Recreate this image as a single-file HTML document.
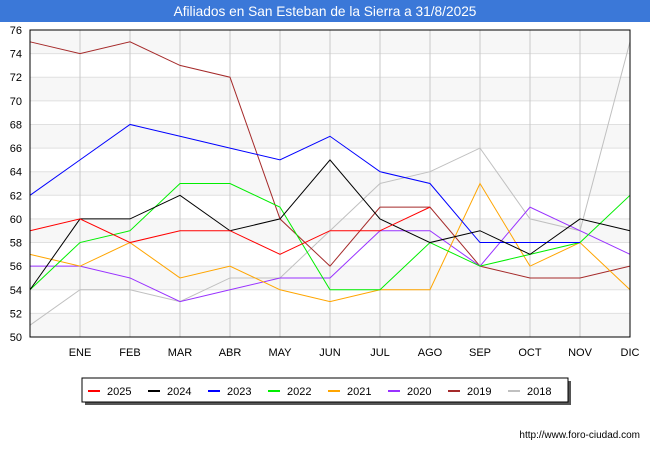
<!DOCTYPE html>
<html><head><meta charset="utf-8"><style>
body{margin:0;background:#fff;font-family:"Liberation Sans",sans-serif}
</style></head><body>
<svg id="c" width="650" height="450" xmlns="http://www.w3.org/2000/svg" font-family="Liberation Sans, sans-serif">
<rect x="0" y="0" width="650" height="22" fill="#3b78d8"/>
<text x="325" y="16" text-anchor="middle" fill="#fff" font-size="13.7">Afiliados en San Esteban de la Sierra a 31/8/2025</text>
<g id="grid"></g>
<g id="series"></g>
<rect x="30" y="30" width="600" height="307" fill="none" stroke="#000" stroke-width="1"/>
<text x="640" y="438" text-anchor="end" font-size="10" fill="#000">http://www.foro-ciudad.com</text>
<g id="legend"></g>
</svg>
<script>
const months=["","ENE","FEB","MAR","ABR","MAY","JUN","JUL","AGO","SEP","OCT","NOV","DIC"];
const yTicks=[50,52,54,56,58,60,62,64,66,68,70,72,74,76];
const names=["2025","2024","2023","2022","2021","2020","2019","2018"];
const colors=["#ff0000","#000000","#0000ff","#00ee00","#ffa500","#9932ff","#a52a2a","#c0c0c0"];
const s2025=[59,60,58,59,59,57,59,59,61];
const s2024=[54,60,60,62,59,60,65,60,58,59,57,60,59];
const s2023=[62,65,68,67,66,65,67,64,63,58,58,58];
const s2022=[54,58,59,63,63,61,54,54,58,56,57,58,62];
const s2021=[57,56,58,55,56,54,53,54,54,63,56,58,54];
const s2020=[56,56,55,53,54,55,55,59,59,56,61,59,57];
const s2019=[75,74,75,73,72,60,56,61,61,56,55,55,56];
const s2018=[51,54,54,53,55,55,59,63,64,66,60,59,75];
const data=[s2025,s2024,s2023,s2022,s2021,s2020,s2019,s2018];
const NS="http://www.w3.org/2000/svg";
const X=i=>30+i*50, Y=v=>30+(76-v)*307/26;
function el(t,a,p){const e=document.createElementNS(NS,t);for(const k in a)e.setAttribute(k,a[k]);p.appendChild(e);return e;}
const g=document.getElementById('grid');
for(let i=0;i<yTicks.length-1;i+=2){const r=el('rect',{x:30,y:Y(yTicks[i+1]),width:600,height:Y(yTicks[i])-Y(yTicks[i+1]),fill:'#f7f7f7'},g);

}
yTicks.forEach(v=>{const l=el('line',{x1:30,x2:630,y1:Y(v),y2:Y(v),stroke:'#e0e0e0'},g);


const t=el('text',{x:22,y:Y(v)+4,'text-anchor':'end','font-size':11,fill:'#000'},g);t.textContent=v;

});
months.forEach((m,i)=>{if(i>0&&i<12){const l=el('line',{x1:X(i),x2:X(i),y1:30,y2:337,stroke:'#c8c8c8'},g);

}
if(m){const t=el('text',{x:X(i),y:356,'text-anchor':'middle','font-size':11,fill:'#000'},g);t.textContent=m;

}});
const sg=document.getElementById('series');
for(let k=data.length-1;k>=0;k--){const pts=data[k].map((v,i)=>X(i)+','+Y(v)).join(' ');
const p=el('polyline',{points:pts,fill:'none',stroke:colors[k],'stroke-width':1},sg);

}
const lg=document.getElementById('legend');
const sh=el('rect',{x:85,y:381,width:486,height:24,fill:'#555'},lg);


const bx=el('rect',{x:82,y:378,width:486,height:24,fill:'#fff',stroke:'#000'},lg);


names.forEach((n,k)=>{const x0=88+k*60;
const l=el('line',{x1:x0,x2:x0+12,y1:391,y2:391,stroke:colors[k],'stroke-width':2},lg);


const t=el('text',{x:x0+19,y:395,'font-size':11,fill:'#000'},lg);t.textContent=n;

});
</script>
</body></html>
